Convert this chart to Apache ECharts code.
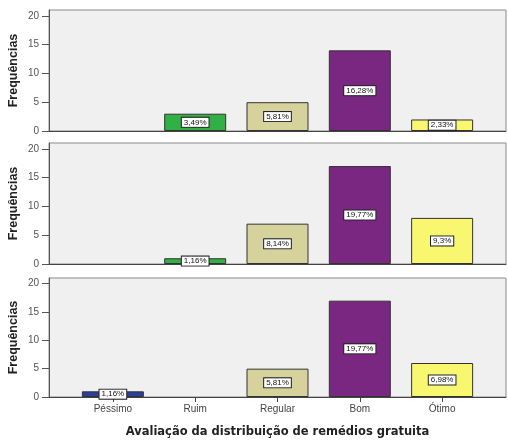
<!DOCTYPE html>
<html><head><meta charset="utf-8">
<script src="https://cdn.jsdelivr.net/npm/echarts@6/dist/echarts.min.js"></script>
<style>html,body{margin:0;padding:0;background:#fff}#c{width:508px;height:446px}</style>
</head><body><div id="c"></div>
<script>
const categories = ['Péssimo', 'Ruim', 'Regular', 'Bom', 'Ótimo'];
const colors = ['#2b3f9c', '#30b045', '#d5d29c', '#7a2782', '#f9f66f'];
const panel1Values = [0, 3, 5, 14, 2];
const panel1Labels = ['', '3,49%', '5,81%', '16,28%', '2,33%'];
const panel2Values = [0, 1, 7, 17, 8];
const panel2Labels = ['', '1,16%', '8,14%', '19,77%', '9,3%'];
const panel3Values = [1, 0, 5, 17, 6];
const panel3Labels = ['1,16%', '', '5,81%', '19,77%', '6,98%'];
const yTicks = [0, 5, 10, 15, 20];
const yTitle = 'Frequências';
const xTitle = 'Avaliação da distribuição de remédios gratuita';

const panels = [
  {values: panel1Values, labels: panel1Labels, top: 10, height: 121},
  {values: panel2Values, labels: panel2Labels, top: 143, height: 121},
  {values: panel3Values, labels: panel3Labels, top: 278, height: 119}
];

const grid = [], xAxis = [], yAxis = [], series = [];
panels.forEach((p, i) => {
  const last = i === panels.length - 1;
  grid.push({left: 49, right: 2, top: p.top, height: p.height, show: true,
    outerBoundsMode: 'none', containLabel: false,
    backgroundColor: '#f0f0f0', borderColor: '#8a8a8a', borderWidth: 1});
  xAxis.push({type: 'value', gridIndex: i, min: -0.776, max: 4.776,
    splitLine: {show: false},
    axisLine: {show: true, onZero: false, lineStyle: {color: '#444', width: 1}},
    axisTick: {show: last, inside: false, length: 5, customValues: [0,1,2,3,4], lineStyle: {color: '#444'}},
    axisLabel: {show: last, customValues: [0,1,2,3,4], formatter: v => categories[v], color: '#444', fontSize: 10, fontFamily: 'Liberation Sans', margin: 7},
    name: last ? xTitle : '', nameLocation: 'middle', nameGap: 29, nameMoveOverlap: false,
    nameTextStyle: {fontSize: 11.5, fontWeight: 'bold', color: '#222', fontFamily: 'DejaVu Sans'}
  });
  yAxis.push({type: 'value', gridIndex: i, min: 0, max: 21,
    splitLine: {show: false},
    axisLine: {show: true, onZero: false, lineStyle: {color: '#555'}},
    axisTick: {show: true, length: 7, customValues: yTicks, lineStyle: {color: '#555'}},
    axisLabel: {customValues: yTicks, color: '#555', fontSize: 10, fontFamily: 'Liberation Sans', margin: 10},
    name: yTitle, nameLocation: 'middle', nameGap: 29, nameRotate: 90, nameMoveOverlap: false,
    nameTextStyle: {fontSize: 12.5, fontWeight: 'bold', color: '#222', fontFamily: 'Liberation Sans'}
  });
  const data = [];
  p.values.forEach((v, k) => {
    if (v > 0) data.push({value: [k, v], itemStyle: {color: colors[k]},
      label: {formatter: p.labels[k]}});
  });
  series.push({type: 'bar', xAxisIndex: i, yAxisIndex: i, barWidth: 62, data,
    itemStyle: {borderColor: '#333', borderWidth: 1},
    label: {show: true, position: 'inside', backgroundColor: '#fff', borderColor: '#222', borderWidth: 1,
      padding: [1, 2, 0, 2], fontSize: 8, color: '#111', fontFamily: 'Liberation Sans'}
  });
});

const chart = echarts.init(document.getElementById('c'), null, {renderer: 'canvas'});
chart.setOption({animation: false, grid, xAxis, yAxis, series});
</script></body></html>
